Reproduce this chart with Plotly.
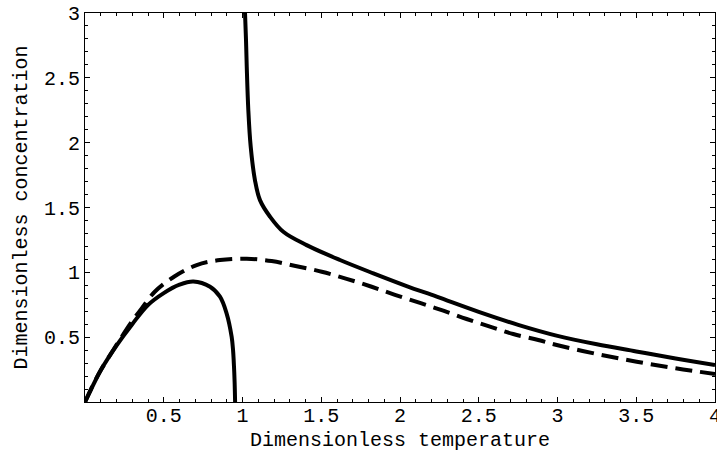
import plotly.graph_objects as go

# Solid curve, lower-left branch
solid_left_x = [0.0, 0.036, 0.1, 0.2, 0.3, 0.4, 0.5, 0.6, 0.688, 0.794, 0.857, 0.899, 0.931, 0.940, 0.946, 0.950, 0.953]
solid_left_y = [0.0, 0.09, 0.245, 0.435, 0.60, 0.748, 0.84, 0.905, 0.930, 0.889, 0.812, 0.684, 0.504, 0.40, 0.272, 0.15, 0.0]

# Solid curve, upper-right branch
solid_right_x = [1.016, 1.022, 1.027, 1.037, 1.052, 1.079, 1.111, 1.175, 1.259, 1.407, 1.619, 1.831, 2.042, 2.233,
                 2.5, 2.75, 3.0, 3.25, 3.5, 3.75, 4.0]
solid_right_y = [3.0, 2.8, 2.585, 2.25, 1.97, 1.712, 1.557, 1.429, 1.313, 1.21, 1.095, 0.992, 0.894, 0.812,
                 0.695, 0.595, 0.51, 0.445, 0.39, 0.335, 0.285]

# Dashed curve
dashed_x = [0.0, 0.05, 0.1, 0.2, 0.3, 0.35, 0.443, 0.57, 0.709, 0.857, 1.027, 1.185, 1.344, 1.503, 1.661, 1.82, 1.968,
            2.127, 2.275, 2.423, 2.571, 2.719, 2.878, 2.995, 3.25, 3.503, 3.75, 4.0]
dashed_y = [0.0, 0.13, 0.245, 0.44, 0.625, 0.705, 0.85, 0.97, 1.056, 1.095, 1.105, 1.087, 1.047, 1.005, 0.950, 0.889, 0.827,
            0.764, 0.704, 0.640, 0.581, 0.524, 0.478, 0.44, 0.37, 0.311, 0.26, 0.216]

x_tick_vals = [0.5, 1, 1.5, 2, 2.5, 3, 3.5, 4]
x_tick_text = ["0.5", "1", "1.5", "2", "2.5", "3", "3.5", "4"]
y_tick_vals = [0.5, 1, 1.5, 2, 2.5, 3]
y_tick_text = ["0.5", "1", "1.5", "2", "2.5", "3"]

FONT = "Liberation Mono, Courier New, monospace"

fig = go.Figure()
line_solid = dict(color="black", width=4, shape="spline", smoothing=1.0)
fig.add_trace(go.Scatter(x=dashed_x, y=dashed_y, mode="lines",
                         line=dict(color="black", width=4, dash="17px,8px", shape="spline", smoothing=1.0),
                         showlegend=False, hoverinfo="skip"))
fig.add_trace(go.Scatter(x=solid_left_x, y=solid_left_y, mode="lines", line=line_solid,
                         showlegend=False, hoverinfo="skip"))
fig.add_trace(go.Scatter(x=solid_right_x, y=solid_right_y, mode="lines", line=line_solid,
                         showlegend=False, hoverinfo="skip"))

axis_common = dict(
    showgrid=False, zeroline=False, showline=True, linecolor="black", linewidth=1,
    mirror="ticks", ticks="inside", ticklen=5, tickwidth=1, tickcolor="black",
    tickfont=dict(family=FONT, size=20, color="black"), automargin=False,
    ticklabeloverflow="allow",
    minor=dict(ticks="inside", ticklen=3, tickwidth=1, tickcolor="black", dtick=0.1, tick0=0, showgrid=False),
)

fig.update_xaxes(range=[0, 4], tickmode="array", tickvals=x_tick_vals, ticktext=x_tick_text,
                 ticklabelstandoff=-5,
                 title=dict(text="Dimensionless temperature", font=dict(family=FONT, size=20, color="black"), standoff=4),
                 **axis_common)
fig.update_yaxes(range=[0, 3], tickmode="array", tickvals=y_tick_vals, ticktext=y_tick_text,
                 title=dict(text="Dimensionless concentration", font=dict(family=FONT, size=20, color="black"), standoff=10),
                 **axis_common)

fig.update_layout(
    width=717, height=456,
    margin=dict(l=85, r=2, t=13, b=54),
    paper_bgcolor="white", plot_bgcolor="white",
    font=dict(family=FONT, size=20, color="black"),
)

fig.write_html("out.html", config={"displayModeBar": False},
               post_script="document.body.style.margin='0';document.body.style.padding='0';")
